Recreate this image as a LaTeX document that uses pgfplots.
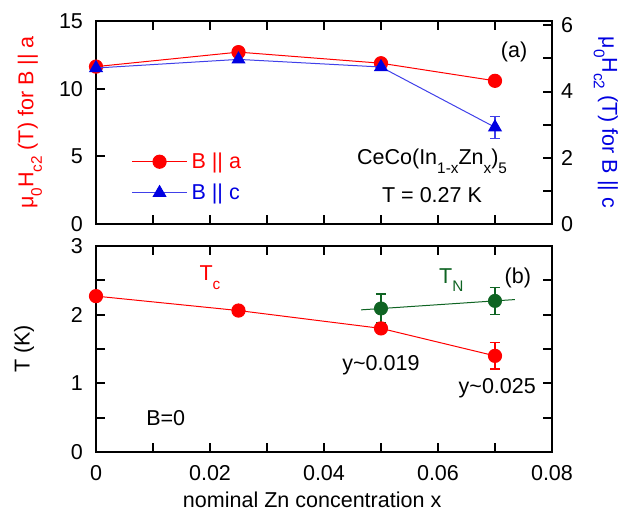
\documentclass[border=0pt]{standalone}
\usepackage{fontspec}
\setmainfont{Liberation Sans}
\usepackage{pgfplots}
\pgfplotsset{compat=1.18}
\definecolor{myred}{RGB}{255,0,0}
\definecolor{myblue}{RGB}{0,0,225}
\definecolor{mygreen}{RGB}{15,100,35}
\newcommand\lo[1]{\raisebox{-0.4em}{\fontsize{7.7}{8}\selectfont #1}}
\begin{document}
\begin{tikzpicture}[x=1bp,y=1bp]
\useasboundingbox (0,0) rectangle (318,257);
\pgfplotsset{
  every axis/.append style={
    scale only axis, width=228bp,
    font=\fontsize{10.8}{12}\selectfont,
    /pgf/number format/assume math mode=true,
    axis line style={line width=1.3bp},
    every tick/.style={line width=1bp, black},
    major tick length=4.5bp, minor tick length=4.5bp,
    tick align=inside,
    xmin=0, xmax=0.08,
    scaled x ticks=false,
  },
  every axis y label/.style={at={(axis description cs:-0.145,0.5)}, rotate=90, anchor=center},
  every axis x label/.style={at={(axis description cs:0.474,-0.233)}, anchor=center},
  err/.style={error bars/.cd, y dir=both, y explicit,
    error bar style={line width=0.6bp},
    error mark options={rotate=90, mark size=2.5bp, line width=0.6bp}},
}
% ---------- top panel, left axis ----------
\begin{axis}[at={(48bp,145bp)}, anchor=south west, height=101.5bp,
  ymin=0, ymax=15, ytick={0,5,10,15}, ytick pos=left,
  xtick={0,0.01,0.02,0.03,0.04,0.05,0.06,0.07,0.08}, xticklabels={},
  yticklabel style={xshift=-3bp},
  ylabel={\color{myred}μ\lo{0}H\lo{c2} (T) for B || a},
]
\addplot[myred, line width=0.5bp, mark=*, mark size=3.3bp, mark options={solid}]
  coordinates {(0,11.63) (0.025,12.7) (0.05,11.88) (0.07,10.58)};
\node at (axis description cs:0.917,0.847) {(a)};
\node at (axis description cs:0.737,0.31) {CeCo(In\lo{1-x}Zn\lo{x})\lo{5}};
\node at (axis description cs:0.737,0.143) {T = 0.27 K};
\end{axis}
% ---------- top panel, right axis ----------
\begin{axis}[at={(48bp,145bp)}, anchor=south west, height=101.5bp,
  axis x line=none, axis y line*=right,
  ymin=0, ymax=6.13, ytick={0,2,4,6}, minor ytick={1,3,5},
  yticklabel style={xshift=1bp},
  every axis y label/.style={at={(axis description cs:1.118,0.5)}, rotate=-90, anchor=center},
  ylabel={\color{myblue}μ\lo{0}H\lo{c2} (T) for B || c},
  legend style={draw=none, fill=none, at={(axis description cs:0.064,0.23)}, anchor=west,
    row sep=2.3bp, font=\fontsize{10.8}{12}\selectfont},
  legend cell align=left,
  legend image code/.code={\draw[mark repeat=2,mark phase=2] plot coordinates {(0bp,0bp) (13.75bp,0bp) (27.5bp,0bp)};},
]
\addlegendimage{myred, line width=0.5bp, mark=*, mark size=3.3bp, mark options={solid}}
\addlegendentry{\textcolor{myred}{B || a}}
\addplot[myblue!75, line width=0.5bp, mark=triangle*, mark size=3.6bp, mark options={myblue, solid}, err]
  coordinates {(0,4.71) +- (0,0) (0.025,4.97) +- (0,0) (0.05,4.74) +- (0,0) (0.07,2.92) +- (0,0.33)};
\addlegendentry{\textcolor{myblue}{B || c}}
\end{axis}
% ---------- bottom panel ----------
\begin{axis}[at={(48bp,31bp)}, anchor=south west, height=103bp,
  ymin=0, ymax=3, ytick={0,1,2,3}, minor ytick={0.5,1.5,2.5}, yticklabel pos=left,
  xtick={0,0.02,0.04,0.06,0.08}, minor xtick={0.01,0.03,0.05,0.07},
  xticklabels={0,0.02,0.04,0.06,0.08},
  yticklabel style={xshift=-3bp},
  xticklabel style={yshift=-3bp},
  every axis y label/.style={at={(axis description cs:-0.158,0.5)}, rotate=90, anchor=center},
  ylabel={T (K)},
  xlabel={nominal Zn concentration x},
]
\addplot[myred, line width=0.5bp, mark=*, mark size=3.3bp, mark options={solid}, err]
  coordinates {(0,2.27) +- (0,0) (0.025,2.06) +- (0,0.06) (0.05,1.80) +- (0,0.05) (0.07,1.40) +- (0,0.19)};
\addplot[mygreen, line width=0.5bp] coordinates {(0.0465,2.07) (0.0735,2.22)};
\addplot[mygreen, only marks, mark=*, mark size=3.3bp, err]
  coordinates {(0.05,2.09) +- (0,0.21) (0.07,2.20) +- (0,0.20)};
\node[myred] at (axis description cs:0.25,0.845) {T\lo{c}};
\node[mygreen] at (axis description cs:0.779,0.835) {T\lo{N}};
\node at (axis description cs:0.925,0.845) {(b)};
\node at (axis description cs:0.625,0.422) {y\textasciitilde 0.019};
\node at (axis description cs:0.88,0.31) {y\textasciitilde 0.025};
\node at (axis description cs:0.153,0.165) {B=0};
\end{axis}
\end{tikzpicture}
\end{document}
